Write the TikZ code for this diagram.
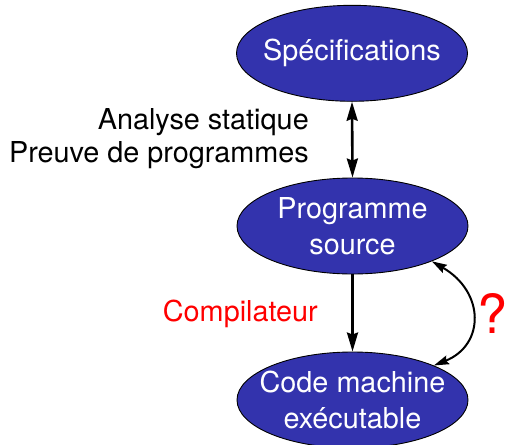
\documentclass[tikz,border=0pt]{standalone}
\usepackage{fontspec}
\setmainfont{TeX Gyre Heros}
\usetikzlibrary{shapes.geometric,arrows.meta}

\definecolor{stagefill}{RGB}{51,51,173}

\tikzset{
  stage/.style={ellipse, draw=black, line width=0.9pt, fill=stagefill,
    minimum width=231pt, minimum height=96pt, inner sep=0pt},
  stagetext/.style={text=white, align=center, inner sep=0pt,
    font=\fontsize{28.8}{36}\selectfont},
  sidetext/.style={inner sep=0pt, anchor=east,
    font=\fontsize{28.8}{33}\selectfont},
  flow/.style={line width=2.6pt,
    -{Stealth[length=19pt,width=11pt,inset=2pt]}},
  flowboth/.style={line width=2.6pt,
    {Stealth[length=19pt,width=11pt,inset=2pt]}-{Stealth[length=19pt,width=11pt,inset=2pt]}},
  loopback/.style={line width=2pt,
    {Stealth[length=15pt,width=9pt,inset=2pt]}-{Stealth[length=15pt,width=9pt,inset=2pt]}}
}

\begin{document}
\begin{tikzpicture}[x=1pt,y=-1pt]
  \useasboundingbox (0,0) rectangle (508,444);

  % the three stages
  \node[stage, label={[stagetext]center:Spécifications}] (spec) at (352,53.3) {};
  \node[stage, label={[stagetext]center:{Programme\\source}}] (src) at (352.5,226) {};
  \node[stage, label={[stagetext]center:{Code machine\\exécutable}}] (exe) at (352.5,400) {};

  % relations between the stages
  \draw[flowboth] (spec.south) -- (src.north);
  \draw[flow] (src.south) -- (exe.north);
  \draw[loopback] (src.-24) .. controls (485,292) and (485,345) .. (exe.23);

  % labels
  \node[sidetext, align=right] (verif) at (309,139)
    {Analyse statique\\Preuve de programmes};
  \node[sidetext, text=red] (compil) at (318,313.5) {Compilateur};
  \node[inner sep=0pt, text=red, font=\fontsize{54}{60}\selectfont] (doubt) at (493,313) {?};
\end{tikzpicture}
\end{document}
